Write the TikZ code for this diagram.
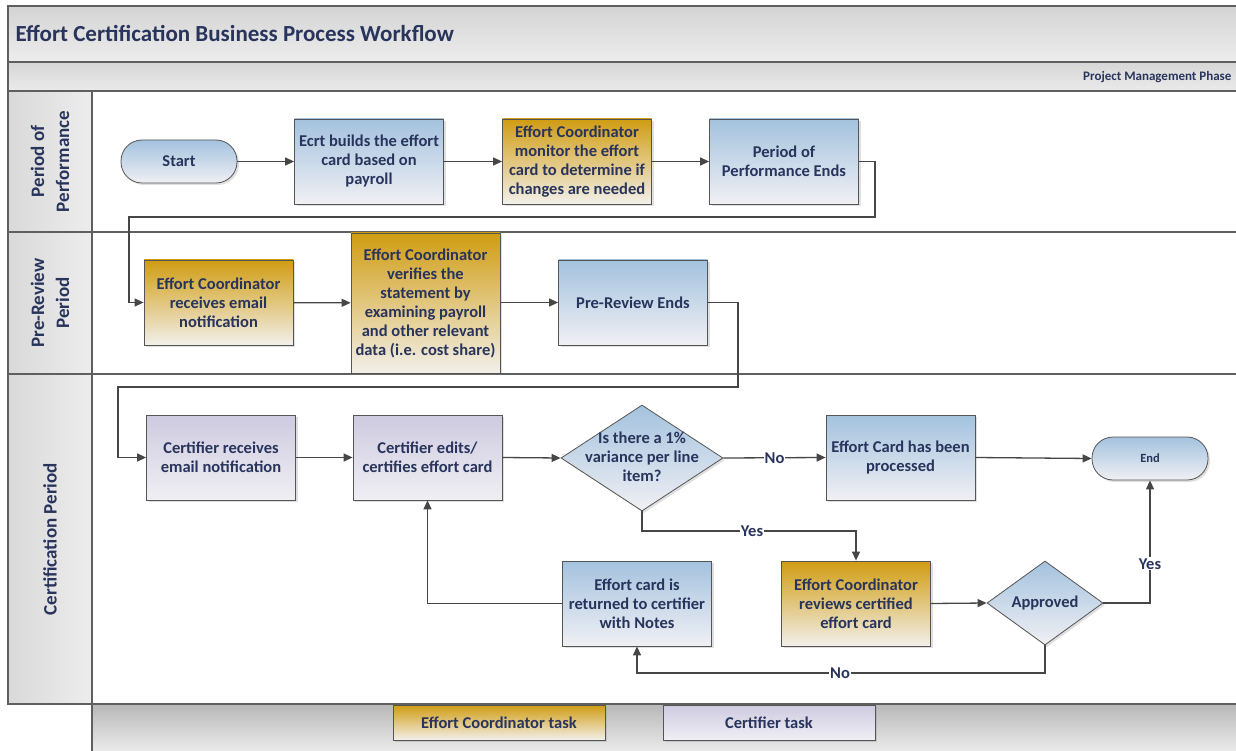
\documentclass[tikz,border=0pt]{standalone}
\usepackage{fontspec}
\setmainfont{Carlito}
\usetikzlibrary{arrows.meta,shapes.geometric,shadows}
\definecolor{navy}{RGB}{40,52,92}
\definecolor{frame}{RGB}{95,95,95}
\definecolor{boxline}{RGB}{85,85,85}
\definecolor{linecol}{RGB}{70,70,70}
\definecolor{blueTop}{RGB}{164,194,222}
\definecolor{blueBot}{RGB}{240,240,244}
\definecolor{goldTop}{RGB}{208,156,18}
\definecolor{goldBot}{RGB}{242,240,234}
\definecolor{lavTop}{RGB}{206,202,224}
\definecolor{lavBot}{RGB}{240,239,244}
\tikzset{
  txt/.style={text=navy,font=\bfseries\fontsize{16.5}{19}\selectfont},
  task/.style={txt,draw=boxline,line width=0.8pt,minimum width=149pt,minimum height=85pt,
     align=center,inner sep=2pt,
     drop shadow={opacity=0.25,shadow xshift=2pt,shadow yshift=-2pt}},
  bluebox/.style={task,top color=blueTop,bottom color=blueBot},
  goldbox/.style={task,top color=goldTop,bottom color=goldBot},
  lavbox/.style={task,top color=lavTop,bottom color=lavBot},
  pill/.style={txt,draw=boxline,line width=0.8pt,rounded corners=21pt,minimum width=116pt,
     minimum height=43pt,top color=blueTop,bottom color=blueBot,
     drop shadow={opacity=0.25,shadow xshift=2pt,shadow yshift=-2pt}},
  dia/.style={diamond,draw=boxline,line width=0.8pt,inner sep=0pt,top color=blueTop,bottom color=blueBot,
     drop shadow={opacity=0.25,shadow xshift=2pt,shadow yshift=-2pt}},
  dtext/.style={txt,align=center,inner sep=0pt},
  arr/.style={draw=linecol,line width=1.3pt,-{Triangle[length=9pt,width=8pt]}},
  lbl/.style={txt,fill=white,inner sep=1pt},
  lane/.style={text=navy,font=\bfseries\fontsize{19}{25}\selectfont,rotate=90,align=center},
  rule/.style={draw=frame,line width=1.2pt},
  legend/.style={txt,draw=boxline,line width=0.8pt,minimum width=212pt,minimum height=35pt,
     drop shadow={opacity=0.25,shadow xshift=2pt,shadow yshift=-2pt}}
}
\begin{document}
\begin{tikzpicture}[x=1pt,y=-1pt]
\useasboundingbox (0,0) rectangle (1236,751);
\fill[white] (0,0) rectangle (1236,751);
% bands
\shade[top color=black!17,bottom color=black!7] (8,6) rectangle (1236,62);
\shade[top color=black!16,bottom color=black!8] (8,62) rectangle (1236,91);
\shade[left color=black!15,right color=black!7] (8,91) rectangle (92,704);
\shade[top color=black!28,bottom color=black!8] (92,704) rectangle (1236,751);
% frame lines
\draw[rule] (1236,6) -- (8,6) -- (8,704) -- (1236,704);
\draw[rule] (8,62) -- (1236,62);
\draw[rule] (8,91) -- (1236,91);
\draw[rule] (8,232) -- (1236,232);
\draw[rule] (8,374) -- (1236,374);
\draw[rule] (92,91) -- (92,751);
% titles
\node[anchor=west,text=navy,font=\bfseries\fontsize{23}{27}\selectfont] (title) at (12,34) {Effort Certification Business Process Workflow};
\node[anchor=east,text=navy,font=\bfseries\fontsize{13}{15}\selectfont] (phase) at (1235,77) {Project Management Phase};
\node[lane] (lane1) at (50,161.5) {Period of\\Performance};
\node[lane] (lane2) at (50,303) {Pre-Review\\Period};
\node[lane] (lane3) at (50,539) {Certification Period};
% lane 1
\node[pill] (start) at (179,161.5) {Start};
\node[bluebox] (ecrt) at (369,161.5) {Ecrt builds the effort\\card based on\\payroll};
\node[goldbox] (ecmon) at (577,161.5) {Effort Coordinator\\monitor the effort\\card to determine if\\changes are needed};
\node[bluebox] (ppe) at (784,161.5) {Period of\\Performance Ends};
% lane 2
\node[goldbox] (ecrec) at (218.5,302.5) {Effort Coordinator\\receives email\\notification};
\node[goldbox,minimum height=140pt] (ecver) at (425.5,303) {Effort Coordinator\\verifies the\\statement by\\examining payroll\\and other relevant\\data (i.e. cost share)};
\node[bluebox] (pre) at (633,302.5) {Pre-Review Ends};
% lane 3
\node[lavbox] (crec) at (221,457.5) {Certifier receives\\email notification};
\node[lavbox] (ced) at (427.5,457.5) {Certifier edits/\\certifies effort card};
\node[dia,minimum width=162pt,minimum height=106pt] (d1) at (642,458) {};
\node[dtext] (d1t) at (642,457) {Is there a 1\%\\variance per line\\item?};
\node[bluebox] (proc) at (900.5,457.5) {Effort Card has been\\processed};
\node[pill,font=\bfseries\fontsize{12.5}{14}\selectfont] (endn) at (1150,458.5) {End};
\node[bluebox] (ret) at (637,603.5) {Effort card is\\returned to certifier\\with Notes};
\node[goldbox] (ecrev) at (856,603.5) {Effort Coordinator\\reviews certified\\effort card};
\node[dia,minimum width=116pt,minimum height=84pt] (appr) at (1045,603) {};
\node[dtext] (apprt) at (1045,603) {Approved};
% legend
\node[legend,top color=goldTop,bottom color=goldBot] (leg1) at (499,722.5) {Effort Coordinator task};
\node[legend,top color=lavTop,bottom color=lavBot] (leg2) at (769,722.5) {Certifier task};
% connectors
\draw[arr] (start) -- (ecrt);
\draw[arr] (ecrt) -- (ecmon);
\draw[arr] (ecmon) -- (ppe);
\coordinate (r1) at (875,217);
\coordinate (l1) at (129,217);
\draw[arr] (ppe.east) -| (r1) -- (l1) |- (ecrec.west);
\draw[arr] (ecrec) -- (ecver);
\draw[arr] (ecver.east |- pre.west) -- (pre.west);
\coordinate (r2) at (738,387);
\coordinate (l2) at (118,387);
\draw[arr] (pre.east) -| (r2) -- (l2) |- (crec.west);
\draw[arr] (crec) -- (ced);
\draw[arr] (ced.east) -- (d1.west);
\draw[arr] (d1.east) -- node[lbl] (no1) {No} (proc.west);
\draw[arr] (proc.east) -- (endn.west);
\coordinate (yturn) at (856,531);
\draw[arr] (d1.south) |- (yturn) -- (ecrev.north);
\node[lbl] (yes1) at (752,531) {Yes};
\draw[arr] (ecrev.east) -- (appr.west);
\draw[arr] (appr.east) -| node[lbl,pos=0.66] (yes2) {Yes} (endn.south);
\coordinate (nturn) at (1045,673);
\draw[arr] (appr.south) -- (nturn) -| (ret.south);
\node[lbl] (no2) at (840,673) {No};
\draw[arr] (ret.west) -| (ced.south);
\end{tikzpicture}
\end{document}
